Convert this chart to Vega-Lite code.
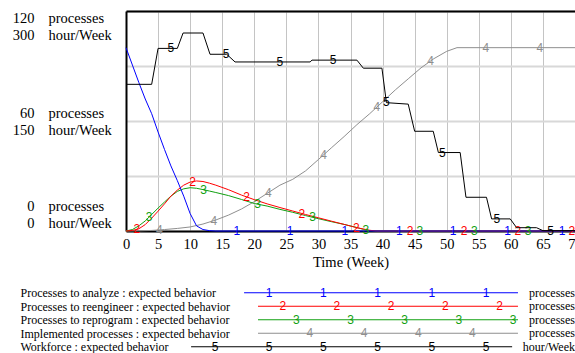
{
  "$schema": "https://vega.github.io/schema/vega-lite/v6.json",
  "autosize": {"type": "none"},
  "padding": {"left": 126, "top": 11, "right": 449, "bottom": 342},
  "spacing": 17,
  "config": {
    "view": {"stroke": null},
    "axis": {"labelFont": "Liberation Serif", "titleFont": "Liberation Serif", "labelColor": "#000000", "titleColor": "#000000", "titleFontWeight": "normal"}
  },
  "datasets": {
    "proc": [
      {"series": "Implemented processes : expected behavior", "week": 0, "value": 0},
      {"series": "Implemented processes : expected behavior", "week": 2, "value": 0.1},
      {"series": "Implemented processes : expected behavior", "week": 4, "value": 0.3},
      {"series": "Implemented processes : expected behavior", "week": 6, "value": 0.8},
      {"series": "Implemented processes : expected behavior", "week": 8, "value": 1.4},
      {"series": "Implemented processes : expected behavior", "week": 10, "value": 2.2},
      {"series": "Implemented processes : expected behavior", "week": 12, "value": 3.8},
      {"series": "Implemented processes : expected behavior", "week": 14, "value": 6},
      {"series": "Implemented processes : expected behavior", "week": 16, "value": 8.7},
      {"series": "Implemented processes : expected behavior", "week": 18, "value": 12},
      {"series": "Implemented processes : expected behavior", "week": 20, "value": 16},
      {"series": "Implemented processes : expected behavior", "week": 22, "value": 20.5},
      {"series": "Implemented processes : expected behavior", "week": 24, "value": 25},
      {"series": "Implemented processes : expected behavior", "week": 26, "value": 28.2},
      {"series": "Implemented processes : expected behavior", "week": 28, "value": 32.8},
      {"series": "Implemented processes : expected behavior", "week": 30, "value": 39},
      {"series": "Implemented processes : expected behavior", "week": 32, "value": 45.3},
      {"series": "Implemented processes : expected behavior", "week": 34, "value": 51.5},
      {"series": "Implemented processes : expected behavior", "week": 36, "value": 58},
      {"series": "Implemented processes : expected behavior", "week": 38, "value": 64},
      {"series": "Implemented processes : expected behavior", "week": 40, "value": 70.5},
      {"series": "Implemented processes : expected behavior", "week": 42, "value": 77},
      {"series": "Implemented processes : expected behavior", "week": 44, "value": 83},
      {"series": "Implemented processes : expected behavior", "week": 46, "value": 89},
      {"series": "Implemented processes : expected behavior", "week": 48, "value": 94},
      {"series": "Implemented processes : expected behavior", "week": 50, "value": 98},
      {"series": "Implemented processes : expected behavior", "week": 51.6, "value": 100},
      {"series": "Implemented processes : expected behavior", "week": 70, "value": 100},
      {"series": "Processes to reprogram : expected behavior", "week": 0, "value": 0},
      {"series": "Processes to reprogram : expected behavior", "week": 1, "value": 0.8},
      {"series": "Processes to reprogram : expected behavior", "week": 2, "value": 2.8},
      {"series": "Processes to reprogram : expected behavior", "week": 3, "value": 5.5},
      {"series": "Processes to reprogram : expected behavior", "week": 4, "value": 9},
      {"series": "Processes to reprogram : expected behavior", "week": 5, "value": 12.5},
      {"series": "Processes to reprogram : expected behavior", "week": 6, "value": 15.8},
      {"series": "Processes to reprogram : expected behavior", "week": 7, "value": 19},
      {"series": "Processes to reprogram : expected behavior", "week": 8, "value": 21.6},
      {"series": "Processes to reprogram : expected behavior", "week": 9, "value": 23},
      {"series": "Processes to reprogram : expected behavior", "week": 10, "value": 23.6},
      {"series": "Processes to reprogram : expected behavior", "week": 11, "value": 23.3},
      {"series": "Processes to reprogram : expected behavior", "week": 12, "value": 22.6},
      {"series": "Processes to reprogram : expected behavior", "week": 13, "value": 21.8},
      {"series": "Processes to reprogram : expected behavior", "week": 14, "value": 21},
      {"series": "Processes to reprogram : expected behavior", "week": 16, "value": 19.3},
      {"series": "Processes to reprogram : expected behavior", "week": 18, "value": 17.2},
      {"series": "Processes to reprogram : expected behavior", "week": 20, "value": 15},
      {"series": "Processes to reprogram : expected behavior", "week": 22, "value": 13.6},
      {"series": "Processes to reprogram : expected behavior", "week": 24, "value": 11.8},
      {"series": "Processes to reprogram : expected behavior", "week": 26, "value": 10.2},
      {"series": "Processes to reprogram : expected behavior", "week": 28, "value": 8.4},
      {"series": "Processes to reprogram : expected behavior", "week": 30, "value": 6.7},
      {"series": "Processes to reprogram : expected behavior", "week": 32, "value": 5.1},
      {"series": "Processes to reprogram : expected behavior", "week": 34, "value": 3.6},
      {"series": "Processes to reprogram : expected behavior", "week": 36, "value": 1.9},
      {"series": "Processes to reprogram : expected behavior", "week": 37, "value": 0.9},
      {"series": "Processes to reprogram : expected behavior", "week": 38, "value": 0.2},
      {"series": "Processes to reprogram : expected behavior", "week": 39, "value": 0},
      {"series": "Processes to reprogram : expected behavior", "week": 70, "value": 0},
      {"series": "Processes to reengineer : expected behavior", "week": 0, "value": 0},
      {"series": "Processes to reengineer : expected behavior", "week": 1, "value": 0.3},
      {"series": "Processes to reengineer : expected behavior", "week": 2, "value": 1.2},
      {"series": "Processes to reengineer : expected behavior", "week": 3, "value": 3.5},
      {"series": "Processes to reengineer : expected behavior", "week": 4, "value": 7},
      {"series": "Processes to reengineer : expected behavior", "week": 5, "value": 10.8},
      {"series": "Processes to reengineer : expected behavior", "week": 6, "value": 14.8},
      {"series": "Processes to reengineer : expected behavior", "week": 7, "value": 19},
      {"series": "Processes to reengineer : expected behavior", "week": 8, "value": 22.3},
      {"series": "Processes to reengineer : expected behavior", "week": 9, "value": 25},
      {"series": "Processes to reengineer : expected behavior", "week": 10, "value": 26.7},
      {"series": "Processes to reengineer : expected behavior", "week": 11, "value": 27.3},
      {"series": "Processes to reengineer : expected behavior", "week": 12, "value": 27},
      {"series": "Processes to reengineer : expected behavior", "week": 13, "value": 26.1},
      {"series": "Processes to reengineer : expected behavior", "week": 14, "value": 25},
      {"series": "Processes to reengineer : expected behavior", "week": 16, "value": 22.5},
      {"series": "Processes to reengineer : expected behavior", "week": 18, "value": 19.6},
      {"series": "Processes to reengineer : expected behavior", "week": 20, "value": 17.1},
      {"series": "Processes to reengineer : expected behavior", "week": 22, "value": 14.8},
      {"series": "Processes to reengineer : expected behavior", "week": 24, "value": 12.8},
      {"series": "Processes to reengineer : expected behavior", "week": 26, "value": 10.9},
      {"series": "Processes to reengineer : expected behavior", "week": 28, "value": 9},
      {"series": "Processes to reengineer : expected behavior", "week": 30, "value": 7.2},
      {"series": "Processes to reengineer : expected behavior", "week": 32, "value": 5.4},
      {"series": "Processes to reengineer : expected behavior", "week": 34, "value": 3.6},
      {"series": "Processes to reengineer : expected behavior", "week": 36, "value": 1.8},
      {"series": "Processes to reengineer : expected behavior", "week": 38, "value": 0.4},
      {"series": "Processes to reengineer : expected behavior", "week": 39, "value": 0},
      {"series": "Processes to reengineer : expected behavior", "week": 70, "value": 0},
      {"series": "Processes to analyze : expected behavior", "week": 0, "value": 100},
      {"series": "Processes to analyze : expected behavior", "week": 1, "value": 90.5},
      {"series": "Processes to analyze : expected behavior", "week": 2, "value": 81},
      {"series": "Processes to analyze : expected behavior", "week": 3, "value": 72},
      {"series": "Processes to analyze : expected behavior", "week": 4, "value": 64},
      {"series": "Processes to analyze : expected behavior", "week": 5, "value": 54},
      {"series": "Processes to analyze : expected behavior", "week": 6, "value": 44.5},
      {"series": "Processes to analyze : expected behavior", "week": 7, "value": 35.5},
      {"series": "Processes to analyze : expected behavior", "week": 8, "value": 27.5},
      {"series": "Processes to analyze : expected behavior", "week": 9, "value": 19},
      {"series": "Processes to analyze : expected behavior", "week": 10, "value": 9.5},
      {"series": "Processes to analyze : expected behavior", "week": 11, "value": 2.8},
      {"series": "Processes to analyze : expected behavior", "week": 12, "value": 0.8},
      {"series": "Processes to analyze : expected behavior", "week": 13, "value": 0.2},
      {"series": "Processes to analyze : expected behavior", "week": 14, "value": 0},
      {"series": "Processes to analyze : expected behavior", "week": 70, "value": 0}
    ],
    "work": [
      {"week": 0, "value": 200}, {"week": 4, "value": 200}, {"week": 5, "value": 249}, {"week": 8, "value": 249},
      {"week": 8.9, "value": 270}, {"week": 12, "value": 270}, {"week": 13.1, "value": 241}, {"week": 15.7, "value": 241},
      {"week": 17, "value": 230.5}, {"week": 28.7, "value": 230.5}, {"week": 29, "value": 233}, {"week": 36, "value": 233},
      {"week": 37, "value": 222}, {"week": 39.9, "value": 222}, {"week": 40.6, "value": 175}, {"week": 44, "value": 173},
      {"week": 45, "value": 136}, {"week": 47.9, "value": 136}, {"week": 48.7, "value": 107}, {"week": 52.1, "value": 107},
      {"week": 53, "value": 46}, {"week": 56.2, "value": 46}, {"week": 57, "value": 16.5}, {"week": 59.9, "value": 16.5},
      {"week": 60.9, "value": 4.5}, {"week": 64, "value": 4.5}, {"week": 65, "value": 0.5}, {"week": 70, "value": 0.5}
    ],
    "procMarks": [
      {"series": "Processes to analyze : expected behavior", "id": "1", "week": 17.3, "value": 0},
      {"series": "Processes to analyze : expected behavior", "id": "1", "week": 25.6, "value": 0},
      {"series": "Processes to analyze : expected behavior", "id": "1", "week": 34.1, "value": 0},
      {"series": "Processes to analyze : expected behavior", "id": "1", "week": 42.6, "value": 0},
      {"series": "Processes to analyze : expected behavior", "id": "1", "week": 51.0, "value": 0},
      {"series": "Processes to analyze : expected behavior", "id": "1", "week": 59.5, "value": 0},
      {"series": "Processes to analyze : expected behavior", "id": "1", "week": 68.0, "value": 0},
      {"series": "Processes to reengineer : expected behavior", "id": "2", "week": 1.7, "value": 0.9},
      {"series": "Processes to reengineer : expected behavior", "id": "2", "week": 10.4, "value": 27},
      {"series": "Processes to reengineer : expected behavior", "id": "2", "week": 18.8, "value": 18.5},
      {"series": "Processes to reengineer : expected behavior", "id": "2", "week": 27.4, "value": 9.5},
      {"series": "Processes to reengineer : expected behavior", "id": "2", "week": 35.9, "value": 1.9},
      {"series": "Processes to reengineer : expected behavior", "id": "2", "week": 44.3, "value": 0},
      {"series": "Processes to reengineer : expected behavior", "id": "2", "week": 52.7, "value": 0},
      {"series": "Processes to reengineer : expected behavior", "id": "2", "week": 61.1, "value": 0},
      {"series": "Processes to reengineer : expected behavior", "id": "2", "week": 69.5, "value": 0},
      {"series": "Processes to reprogram : expected behavior", "id": "3", "week": 3.6, "value": 7.6},
      {"series": "Processes to reprogram : expected behavior", "id": "3", "week": 12.1, "value": 22.5},
      {"series": "Processes to reprogram : expected behavior", "id": "3", "week": 20.5, "value": 14.6},
      {"series": "Processes to reprogram : expected behavior", "id": "3", "week": 29.1, "value": 7.4},
      {"series": "Processes to reprogram : expected behavior", "id": "3", "week": 37.4, "value": 0.7},
      {"series": "Processes to reprogram : expected behavior", "id": "3", "week": 45.8, "value": 0},
      {"series": "Processes to reprogram : expected behavior", "id": "3", "week": 54.3, "value": 0},
      {"series": "Processes to reprogram : expected behavior", "id": "3", "week": 62.7, "value": 0},
      {"series": "Implemented processes : expected behavior", "id": "4", "week": 5.2, "value": 0.5},
      {"series": "Implemented processes : expected behavior", "id": "4", "week": 13.7, "value": 5.7},
      {"series": "Implemented processes : expected behavior", "id": "4", "week": 22.2, "value": 21},
      {"series": "Implemented processes : expected behavior", "id": "4", "week": 30.8, "value": 41.5},
      {"series": "Implemented processes : expected behavior", "id": "4", "week": 39.1, "value": 67.5},
      {"series": "Implemented processes : expected behavior", "id": "4", "week": 47.5, "value": 92.7},
      {"series": "Implemented processes : expected behavior", "id": "4", "week": 56.1, "value": 100},
      {"series": "Implemented processes : expected behavior", "id": "4", "week": 64.5, "value": 100}
    ],
    "workMarks": [
      {"id": "5", "week": 7.0, "value": 249}, {"id": "5", "week": 15.6, "value": 241},
      {"id": "5", "week": 24.0, "value": 230.5}, {"id": "5", "week": 32.3, "value": 233},
      {"id": "5", "week": 40.6, "value": 176}, {"id": "5", "week": 49.3, "value": 107},
      {"id": "5", "week": 57.8, "value": 16.5}, {"id": "5", "week": 66.2, "value": 0.5}
    ],
    "legend": [
      {"series": "Processes to analyze : expected behavior", "unit": "processes"},
      {"series": "Processes to reengineer : expected behavior", "unit": "processes"},
      {"series": "Processes to reprogram : expected behavior", "unit": "processes"},
      {"series": "Implemented processes : expected behavior", "unit": "processes"},
      {"series": "Workforce : expected behavior", "unit": "hour/Week"}
    ],
    "legendMarks": [
      {"series": "Processes to analyze : expected behavior", "id": "1", "k": 1},
      {"series": "Processes to analyze : expected behavior", "id": "1", "k": 2},
      {"series": "Processes to analyze : expected behavior", "id": "1", "k": 3},
      {"series": "Processes to analyze : expected behavior", "id": "1", "k": 4},
      {"series": "Processes to analyze : expected behavior", "id": "1", "k": 5},
      {"series": "Processes to reengineer : expected behavior", "id": "2", "k": 1},
      {"series": "Processes to reengineer : expected behavior", "id": "2", "k": 2},
      {"series": "Processes to reengineer : expected behavior", "id": "2", "k": 3},
      {"series": "Processes to reengineer : expected behavior", "id": "2", "k": 4},
      {"series": "Processes to reengineer : expected behavior", "id": "2", "k": 5},
      {"series": "Processes to reprogram : expected behavior", "id": "3", "k": 1},
      {"series": "Processes to reprogram : expected behavior", "id": "3", "k": 2},
      {"series": "Processes to reprogram : expected behavior", "id": "3", "k": 3},
      {"series": "Processes to reprogram : expected behavior", "id": "3", "k": 4},
      {"series": "Processes to reprogram : expected behavior", "id": "3", "k": 5},
      {"series": "Implemented processes : expected behavior", "id": "4", "k": 1},
      {"series": "Implemented processes : expected behavior", "id": "4", "k": 2},
      {"series": "Implemented processes : expected behavior", "id": "4", "k": 3},
      {"series": "Implemented processes : expected behavior", "id": "4", "k": 4},
      {"series": "Workforce : expected behavior", "id": "5", "k": -1},
      {"series": "Workforce : expected behavior", "id": "5", "k": 0},
      {"series": "Workforce : expected behavior", "id": "5", "k": 1},
      {"series": "Workforce : expected behavior", "id": "5", "k": 2},
      {"series": "Workforce : expected behavior", "id": "5", "k": 3},
      {"series": "Workforce : expected behavior", "id": "5", "k": 4}
    ]
  },
  "vconcat": [
    {
      "width": 449,
      "height": 220,
      "resolve": {"scale": {"y": "independent"}, "axis": {"x": "independent", "y": "independent"}},
      "layer": [
        {
          "data": {"name": "proc"},
          "transform": [{"filter": "datum.series != 'Processes to analyze : expected behavior'"}],
          "mark": {"type": "line", "strokeWidth": 1},
          "encoding": {
            "x": {"field": "week", "type": "quantitative", "scale": {"domain": [0, 70], "nice": false},
              "axis": {"orient": "bottom", "values": [0, 5, 10, 15, 20, 25, 30, 35, 40, 45, 50, 55, 60, 65, 70], "title": "Time (Week)",
                "grid": true, "gridColor": "#c4c4c4", "gridWidth": 1, "domainColor": "#000000", "domainWidth": 2,
                "ticks": false, "tickSize": 0, "labelPadding": 6, "titlePadding": 5, "labelFontSize": 14.5, "titleFontSize": 14.5,
                "labelOverlap": false, "labelFlush": false}},
            "y": {"field": "value", "type": "quantitative", "scale": {"domain": [0, 120], "nice": false},
              "axis": {"orient": "left", "values": [0, 30, 60, 90, 120], "title": null, "grid": true, "gridColor": "#d8d8d8", "gridWidth": 2,
                "domainColor": "#000000", "domainWidth": 2, "ticks": false, "tickSize": 0,
                "labelAlign": "right", "labelPadding": 92, "labelFlush": true, "labelOverlap": false, "labelFontSize": 14.5,
                "labelLineHeight": 17, "labelExpr": "datum.value % 60 == 0 ? [datum.label, ''] : ''",
                "labelOffset": {"condition": [{"test": "datum.value == 0", "value": -18}, {"test": "datum.value == 60", "value": -8}], "value": 0}}},
            "stroke": {"field": "series", "type": "nominal", "legend": null,
              "scale": {"domain": ["Processes to analyze : expected behavior", "Processes to reengineer : expected behavior", "Processes to reprogram : expected behavior", "Implemented processes : expected behavior", "Workforce : expected behavior"],
                "range": ["#0000ff", "#ff0000", "#10a010", "#8f8f8f", "#000000"]}}
          }
        },
        {
          "data": {"name": "proc"},
          "transform": [{"filter": "datum.series == 'Processes to analyze : expected behavior'"}],
          "mark": {"type": "line", "strokeWidth": 1, "color": "#0000ff"},
          "encoding": {
            "x": {"field": "week", "type": "quantitative", "scale": {"domain": [0, 70], "nice": false}, "axis": null},
            "y": {"field": "value", "type": "quantitative", "scale": {"domain": [0, 120], "nice": false}, "axis": null}
          }
        },
        {
          "data": {"name": "procMarks"},
          "mark": {"type": "text", "font": "Liberation Sans", "fontSize": 12, "baseline": "middle", "align": "center"},
          "encoding": {
            "x": {"field": "week", "type": "quantitative", "scale": {"domain": [0, 70], "nice": false}, "axis": null},
            "y": {"field": "value", "type": "quantitative", "scale": {"domain": [0, 120], "nice": false},
              "axis": {"orient": "left", "values": [0, 60, 120], "title": null, "grid": false, "domain": false, "ticks": false, "tickSize": 0,
                "labelAlign": "left", "labelPadding": 78, "labelFlush": true, "labelOverlap": false, "labelFontSize": 14.5,
                "labelLineHeight": 17, "labelExpr": "['processes', '']",
                "labelOffset": {"condition": [{"test": "datum.value == 0", "value": -18}, {"test": "datum.value == 60", "value": -8}], "value": 0}}},
            "text": {"field": "id"},
            "color": {"field": "series", "type": "nominal", "legend": null,
              "scale": {"domain": ["Processes to analyze : expected behavior", "Processes to reengineer : expected behavior", "Processes to reprogram : expected behavior", "Implemented processes : expected behavior", "Workforce : expected behavior"],
                "range": ["#0000ff", "#ff0000", "#10a010", "#8f8f8f", "#000000"]}}
          }
        },
        {
          "data": {"name": "work"},
          "mark": {"type": "line", "strokeWidth": 1, "color": "#000000"},
          "encoding": {
            "x": {"field": "week", "type": "quantitative", "scale": {"domain": [0, 70], "nice": false},
              "axis": {"orient": "top", "labels": false, "ticks": false, "grid": false, "domain": true, "domainColor": "#000000", "domainWidth": 2, "title": null}},
            "y": {"field": "value", "type": "quantitative", "scale": {"domain": [0, 300], "nice": false},
              "axis": {"orient": "left", "values": [0, 150, 300], "title": null, "grid": false, "domain": false, "ticks": false, "tickSize": 0,
                "labelAlign": "right", "labelPadding": 92, "labelFlush": true, "labelOverlap": false, "labelFontSize": 14.5,
                "labelLineHeight": 17, "labelExpr": "['', datum.label]",
                "labelOffset": {"condition": [{"test": "datum.value == 0", "value": -18}, {"test": "datum.value == 150", "value": -8}], "value": 0}}}
          }
        },
        {
          "data": {"name": "workMarks"},
          "mark": {"type": "text", "font": "Liberation Sans", "fontSize": 12, "baseline": "middle", "align": "center", "color": "#000000"},
          "encoding": {
            "x": {"field": "week", "type": "quantitative", "scale": {"domain": [0, 70], "nice": false}, "axis": null},
            "y": {"field": "value", "type": "quantitative", "scale": {"domain": [0, 300], "nice": false},
              "axis": {"orient": "left", "values": [0, 150, 300], "title": null, "grid": false, "domain": false, "ticks": false, "tickSize": 0,
                "labelAlign": "left", "labelPadding": 78, "labelFlush": true, "labelOverlap": false, "labelFontSize": 14.5,
                "labelLineHeight": 17, "labelExpr": "['', 'hour/Week']",
                "labelOffset": {"condition": [{"test": "datum.value == 0", "value": -18}, {"test": "datum.value == 150", "value": -8}], "value": 0}}},
            "text": {"field": "id"}
          }
        }
      ]
    },
    {
      "width": 449,
      "height": 67.5,
      "resolve": {"scale": {"x": "independent"}},
      "layer": [
        {
          "data": {"name": "legend"},
          "transform": [{"filter": "datum.series == 'Processes to analyze : expected behavior'"}],
          "mark": {"type": "rule", "strokeWidth": 1, "color": "#0000ff"},
          "encoding": {
            "y": {"field": "series", "type": "nominal",
              "scale": {"type": "point", "padding": 0.5, "domain": ["Processes to analyze : expected behavior", "Processes to reengineer : expected behavior", "Processes to reprogram : expected behavior", "Implemented processes : expected behavior", "Workforce : expected behavior"]},
              "axis": {"orient": "left", "title": null, "domain": false, "ticks": false, "tickSize": 0, "grid": false,
                "labelAlign": "left", "labelBaseline": "middle", "labelPadding": 106, "labelLimit": 0, "labelFontSize": 12, "labelOverlap": false}},
            "x": {"datum": 26.3, "type": "quantitative", "scale": {"domain": [0, 100], "nice": false}, "axis": null},
            "x2": {"datum": 87.3}
          }
        },
        {
          "data": {"name": "legend"},
          "transform": [{"filter": "datum.unit == 'processes' && datum.series != 'Processes to analyze : expected behavior'"}],
          "mark": {"type": "rule", "strokeWidth": 1},
          "encoding": {
            "y": {"field": "series", "type": "nominal"},
            "x": {"datum": 29.4, "type": "quantitative", "scale": {"domain": [0, 100], "nice": false}, "axis": null},
            "x2": {"datum": 87.3},
            "stroke": {"field": "series", "type": "nominal", "legend": null,
              "scale": {"domain": ["Processes to analyze : expected behavior", "Processes to reengineer : expected behavior", "Processes to reprogram : expected behavior", "Implemented processes : expected behavior", "Workforce : expected behavior"],
                "range": ["#0000ff", "#ff0000", "#10a010", "#8f8f8f", "#000000"]}}
          }
        },
        {
          "data": {"name": "legend"},
          "transform": [{"filter": "datum.unit == 'hour/Week'"}],
          "mark": {"type": "rule", "strokeWidth": 1, "color": "#000000"},
          "encoding": {
            "y": {"field": "series", "type": "nominal"},
            "x": {"datum": 14.5, "type": "quantitative", "scale": {"domain": [0, 100], "nice": false}, "axis": null},
            "x2": {"datum": 86.0}
          }
        },
        {
          "data": {"name": "legendMarks"},
          "mark": {"type": "text", "font": "Liberation Sans", "fontSize": 12, "baseline": "middle", "align": "center"},
          "encoding": {
            "x": {"field": "k", "type": "ordinal", "scale": {"type": "band", "domain": [-1, 0, 1, 2, 3, 4, 5], "paddingInner": 0, "paddingOuter": 0.642}, "axis": null},
            "xOffset": {"field": "series", "type": "nominal",
              "scale": {"domain": ["Processes to analyze : expected behavior", "Processes to reengineer : expected behavior", "Processes to reprogram : expected behavior", "Implemented processes : expected behavior", "Workforce : expected behavior"], "paddingInner": 0, "paddingOuter": 0}},
            "y": {"field": "series", "type": "nominal"},
            "text": {"field": "id"},
            "color": {"field": "series", "type": "nominal", "legend": null,
              "scale": {"domain": ["Processes to analyze : expected behavior", "Processes to reengineer : expected behavior", "Processes to reprogram : expected behavior", "Implemented processes : expected behavior", "Workforce : expected behavior"],
                "range": ["#0000ff", "#ff0000", "#10a010", "#8f8f8f", "#000000"]}}
          }
        },
        {
          "data": {"name": "legend"},
          "mark": {"type": "text", "font": "Liberation Serif", "fontSize": 12, "baseline": "middle", "align": "right", "color": "#000000"},
          "encoding": {
            "x": {"datum": 100, "type": "quantitative", "scale": {"domain": [0, 100], "nice": false}, "axis": null},
            "y": {"field": "series", "type": "nominal"},
            "text": {"field": "unit"}
          }
        }
      ]
    }
  ]
}
